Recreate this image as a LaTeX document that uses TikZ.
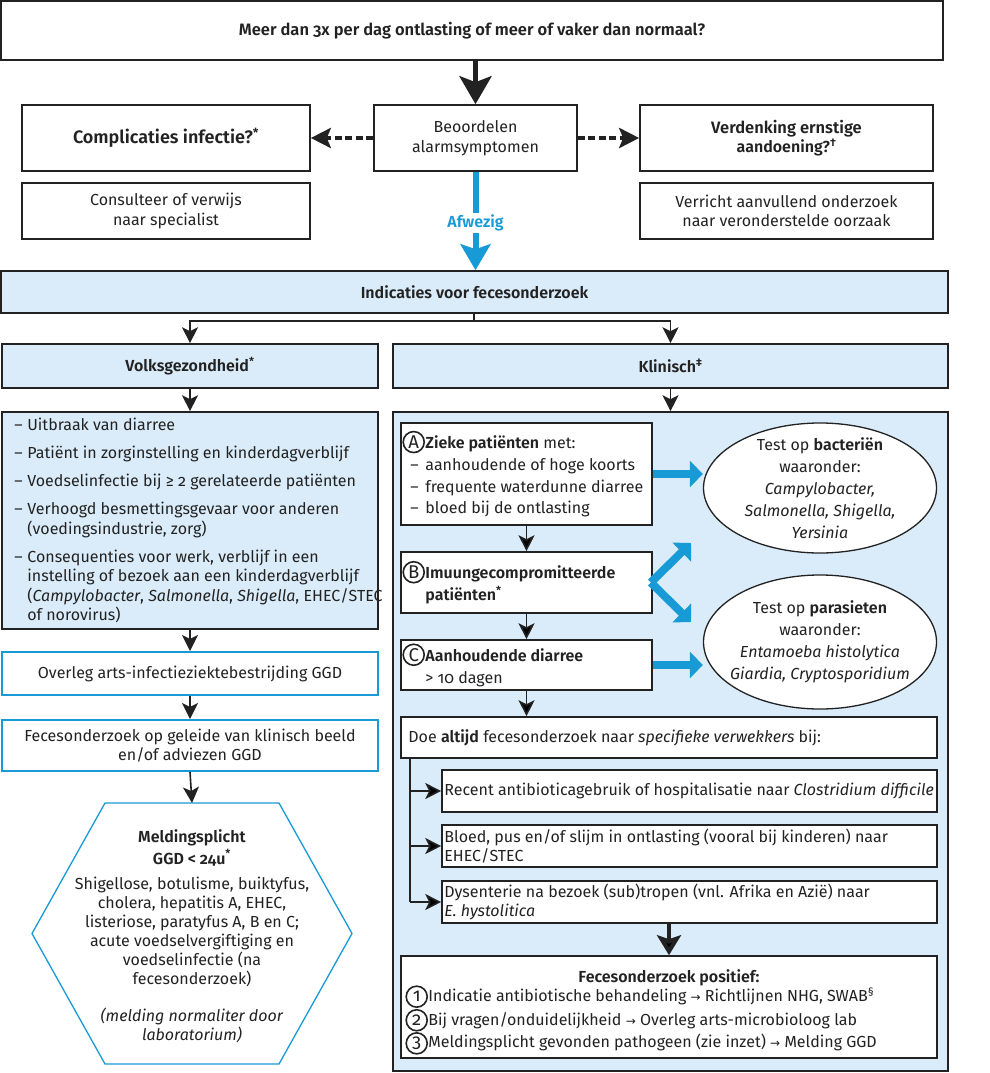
\documentclass[tikz,border=0pt]{standalone}
\usepackage{fontspec}
\setmainfont{Fira Sans}[Numbers=OldStyle, BoldFont={Fira Sans SemiBold}]
\newfontfamily\symf{DejaVu Sans}
\usetikzlibrary{arrows.meta,shapes.geometric}
\definecolor{lblue}{RGB}{218,236,249}
\definecolor{ablue}{RGB}{24,154,214}
\definecolor{bord}{RGB}{34,34,34}
\newcommand\fs{\fontsize{16}{19.5}\selectfont}
\newcommand\circlt[1]{\tikz[baseline=(cc.base)]\node[draw=bord, circle, line width=1.6pt, inner sep=0pt, minimum size=21pt, font=\fontsize{18.5}{18.5}\selectfont](cc){#1};}
\newcommand\circl[1]{\makebox[23pt][l]{\circlt{#1}}}
\newcommand\arr{{\symf\fontsize{12}{12}\selectfont →}}
\newcommand\fnm[1]{\textsuperscript{#1}}
\begin{document}
\begin{tikzpicture}[x=1pt,y=-1pt,
  every node/.style={text=bord},
  box/.style={draw=bord, line width=1.6pt, fill=white, inner sep=0pt, align=center, font=\fs},
  bbox/.style={box, fill=lblue},
  lbbox/.style={box, draw=ablue, line width=2pt},
  txt/.style={inner sep=0pt, align=left, font=\fs, anchor=west},
  ell/.style={draw=bord, line width=1.3pt, fill=white, ellipse, inner sep=0pt},
  sarr/.style={draw=bord, line width=1.6pt, -{Stealth[length=16pt,width=16pt,inset=4pt]}},
  bigarr/.style={draw=bord, line width=5pt, -{Stealth[length=28pt,width=32pt,inset=6pt]}},
  midarr/.style={draw=bord, line width=4pt, -{Stealth[length=20pt,width=24pt,inset=4pt]}},
  darr/.style={draw=bord, line width=4pt, dash pattern=on 7pt off 3.5pt, -{Stealth[length=20pt,width=20pt,inset=4pt]}},
  barr/.style={draw=ablue, line width=8pt, -{Triangle[length=13pt,width=26pt]}},
  afarr/.style={draw=ablue, line width=6pt, -{Stealth[length=26pt,width=30pt,inset=5pt]}}
]
\useasboundingbox (0,0) rectangle (989,1073);

% top part
\node[box, minimum width=942pt, minimum height=59pt] (top) at (472,30.5) {\fontsize{16.5}{19.5}\selectfont\bfseries Meer dan 3x per dag ontlasting of meer of vaker dan normaal?};
\node[box, minimum width=288pt, minimum height=66pt] (comp) at (166,138) {\fontsize{18}{22}\selectfont\bfseries Complicaties infectie?\fnm{*}};
\node[box, minimum width=203pt, minimum height=66pt] (beo) at (475.5,138) {Beoordelen\\alarmsymptomen};
\node[box, minimum width=293pt, minimum height=66pt] (verd) at (786.5,138) {\fontsize{16.5}{20}\selectfont\bfseries Verdenking ernstige\\\bfseries aandoening?\fnm{†}};
\node[box, minimum width=288pt, minimum height=56pt] (cons) at (166,211) {Consulteer of verwijs\\naar specialist};
\node[box, minimum width=293pt, minimum height=56pt] (verr) at (786.5,211) {Verricht aanvullend onderzoek\\naar veronderstelde oorzaak};

\node[bbox, minimum width=947pt, minimum height=42pt] (ind) at (474.5,292) {\bfseries Indicaties voor fecesonderzoek};

\draw[bigarr] (top.south -| beo.north) -- (beo.north);
\draw[darr] (beo.west) -- (comp.east);
\draw[darr] (beo.east) -- (verd.west);
\draw[afarr] (beo.south) -- (beo.south |- ind.north);
\node[fill=white, inner sep=2pt, font=\fs\bfseries, text=ablue] (afw) at (475.5,223) {Afwezig};

% columns
\node[bbox, minimum width=376pt, minimum height=44pt] (volks) at (190,366) {\bfseries Volksgezondheid\fnm{*}};
\node[bbox, minimum width=555pt, minimum height=44pt] (klin) at (670.5,366) {\bfseries Klinisch\fnm{‡}};
\coordinate (br) at (474,321);
\draw[draw=bord, line width=1.6pt] (ind.south -| br) -- (br);
\draw[sarr] (br) -| (volks.north);
\draw[sarr] (br) -| (klin.north);

% left column
\node[bbox, minimum width=376pt, minimum height=217pt] (list) at (190,520.5) {};
\node[txt] (listt) at ([xshift=13pt]list.west) {%
\makebox[13pt][l]{–}Uitbraak van diarree\\[8.5pt]
\makebox[13pt][l]{–}Patiënt in zorginstelling en kinderdagverblijf\\[8.5pt]
\makebox[13pt][l]{–}Voedselinfectie bij ≥ 2 gerelateerde patiënten\\[8.5pt]
\makebox[13pt][l]{–}Verhoogd besmettingsgevaar voor anderen\\
\hspace*{13pt}(voedingsindustrie, zorg)\\[8.5pt]
\makebox[13pt][l]{–}Consequenties voor werk, verblijf in een\\
\hspace*{13pt}instelling of bezoek aan een kinderdagverblijf\\
\hspace*{13pt}(\textit{Campylobacter}, \textit{Salmonella}, \textit{Shigella}, EHEC/STEC\\
\hspace*{13pt}of norovirus)};
\node[lbbox, minimum width=376pt, minimum height=43pt] (ov) at (190,673.5) {Overleg arts-infectieziektebestrijding GGD};
\node[lbbox, minimum width=376pt, minimum height=51pt, font=\fontsize{16}{18.5}\selectfont] (fec) at (190,745.5) {Fecesonderzoek op geleide van klinisch beeld\\en/of adviezen GGD};
\draw[sarr] (volks.south) -- (list.north);
\draw[sarr] (list.south) -- (ov.north);
\draw[sarr] (ov.south) -- (fec.north);
\draw[draw=ablue, line width=1.3pt, fill=white] (105,803) -- (279,803) -- (352,933.5) -- (279,1064) -- (105,1064) -- (32,933.5) -- cycle;
\coordinate (hextop) at (192,803);
\draw[sarr] (fec.south) -- (hextop);
\node[inner sep=0pt, align=center, font=\fontsize{16}{19}\selectfont] (hext) at (192,936) {%
\textbf{Meldingsplicht}\\[3pt]
\textbf{GGD < 24u\fnm{*}}\\[6pt]
Shigellose, botulisme, buiktyfus,\\
cholera, hepatitis A, EHEC,\\
listeriose, paratyfus A, B en C;\\
acute voedselvergiftiging en\\
voedselinfectie (na\\
fecesonderzoek)\\[18pt]
\textit{(melding normaliter door}\\
\textit{laboratorium)}};

% right panel
\node[bbox, minimum width=555pt, minimum height=659pt] (panel) at (670.5,741.5) {};
\draw[sarr] (klin.south) -- (panel.north);

\node[box, minimum width=251pt, minimum height=102pt] (A) at (526.5,474) {};
\node[txt, font=\fontsize{16}{21.8}\selectfont] (At) at ([xshift=2pt]A.west) {%
\circl{A}\textbf{Zieke patiënten} met:\\
\makebox[23pt][l]{\hspace{8pt}–}aanhoudende of hoge koorts\\
\makebox[23pt][l]{\hspace{8pt}–}frequente waterdunne diarree\\
\makebox[23pt][l]{\hspace{8pt}–}bloed bij de ontlasting};
\node[box, minimum width=251pt, minimum height=61pt] (B) at (526.5,582.5) {};
\node[txt, font=\fontsize{16}{22}\selectfont] (Bt) at ([xshift=2pt]B.west) {%
\circl{B}\textbf{Imuungecompromitteerde}\\
\hspace*{23pt}\textbf{patiënten\fnm{*}}};
\node[box, minimum width=251pt, minimum height=50pt] (C) at (526.5,665) {};
\node[txt, font=\fontsize{16}{22}\selectfont] (Ct) at ([xshift=2pt]C.west) {%
\circl{C}\textbf{Aanhoudende diarree}\\
\hspace*{23pt}> 10 dagen};
\draw[sarr] (A.south) -- (B.north);
\draw[sarr] (B.south) -- (C.north);

\node[ell, minimum width=233pt, minimum height=130pt] (E1) at (820,488) {};
\node[inner sep=0pt, align=center, font=\fontsize{16}{22}\selectfont] (E1t) at (E1) {%
Test op \textbf{bacteriën}\\waaronder:\\\textit{Campylobacter,}\\\textit{Salmonella, Shigella,}\\\textit{Yersinia}};
\node[ell, minimum width=233pt, minimum height=134pt] (E2) at (820,642) {};
\node[inner sep=0pt, align=center, font=\fontsize{16}{22}\selectfont] (E2t) at (E2) {%
Test op \textbf{parasieten}\\waaronder:\\\textit{Entamoeba histolytica}\\\textit{Giardia, Cryptosporidium}};

\draw[barr] (A.east) -- (A.east -| E1.west);
\draw[barr] (C.east) -- (C.east -| E2.west);
\coordinate (bu) at (691,543);
\coordinate (bd) at (691,622);
\draw[barr] ([xshift=-2pt]B.east) -- (bu);
\draw[barr] ([xshift=-2pt]B.east) -- (bd);

\node[box, minimum width=536pt, minimum height=41pt] (D) at (669,737.5) {};
\node[txt] (Dt) at ([xshift=8pt]D.west) {Doe \textbf{altijd} fecesonderzoek naar \textit{specifieke verwekkers} bij:};
\draw[sarr] (C.south) -- (C.south |- D.north);

\node[box, minimum width=495pt, minimum height=42pt] (S1) at (689.5,791) {};
\node[txt] (S1t) at ([xshift=3pt]S1.west) {Recent antibioticagebruik of hospitalisatie naar \textit{Clostridium difficile}};
\node[box, minimum width=495pt, minimum height=42pt] (S2) at (689.5,846) {};
\node[txt, font=\fontsize{16}{18.5}\selectfont] (S2t) at ([xshift=3pt]S2.west) {Bloed, pus en/of slijm in ontlasting (vooral bij kinderen) naar\\EHEC/STEC};
\node[box, minimum width=495pt, minimum height=42pt] (S3) at (689.5,902) {};
\node[txt, font=\fontsize{16}{18.5}\selectfont] (S3t) at ([xshift=3pt]S3.west) {Dysenterie na bezoek (sub)tropen (vnl. Afrika en Azië) naar\\\textit{E. hystolitica}};
\coordinate (dl) at (410,758);
\draw[draw=bord, line width=1.6pt] (D.south -| dl) -- (S3.west -| dl);
\draw[sarr] (S1.west -| dl) -- (S1.west);
\draw[sarr] (S2.west -| dl) -- (S2.west);
\draw[sarr] (S3.west -| dl) -- (S3.west);

\node[box, minimum width=536pt, minimum height=102pt] (F) at (669,1007) {};
\node[inner sep=0pt, align=center, font=\fs\bfseries] (Ft) at (669,978) {Fecesonderzoek positief:};
\node[txt, font=\fontsize{16}{22}\selectfont] (Fl) at ([xshift=5pt,yshift=-13pt]F.west) {%
\circl{1}Indicatie antibiotische behandeling \arr{} Richtlijnen NHG, SWAB\fnm{§}\\
\circl{2}Bij vragen/onduidelijkheid \arr{} Overleg arts-microbioloog lab\\
\circl{3}Meldingsplicht gevonden pathogeen (zie inzet) \arr{} Melding GGD};
\draw[midarr] (S3.south -| F.north) -- (F.north);
\end{tikzpicture}
\end{document}
